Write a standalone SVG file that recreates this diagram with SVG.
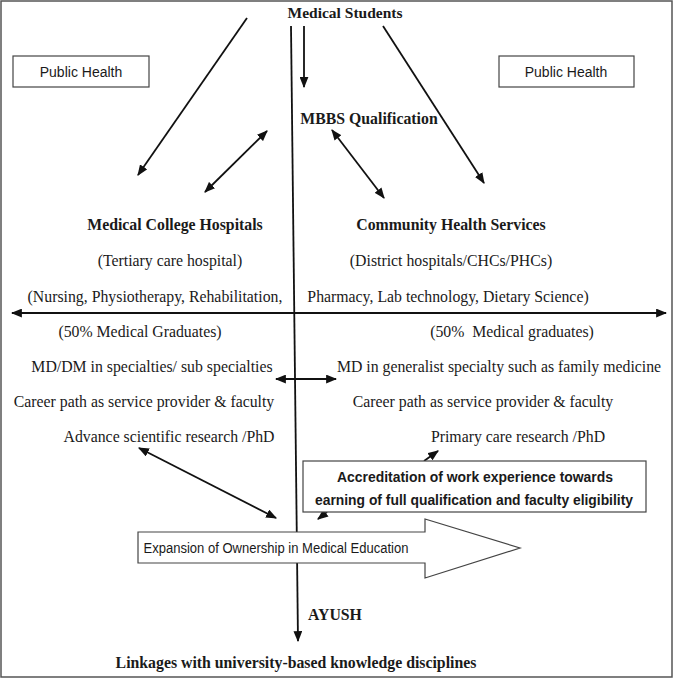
<svg xmlns="http://www.w3.org/2000/svg" width="673" height="678" viewBox="0 0 673 678">
<style>
.s{font-family:"Liberation Serif","Times New Roman",serif;font-size:15.8px;fill:#1a1a1a;text-anchor:middle}
.b{font-weight:bold}
.ss{font-family:"Liberation Sans",Arial,sans-serif;font-size:14px;fill:#1a1a1a;text-anchor:middle}
.box{fill:#fff;stroke:#444;stroke-width:1.2}
.c{stroke:#111;stroke-width:1.8;fill:none}
</style>
<defs>
<marker id="ah" viewBox="0 0 10 8" refX="9" refY="4" markerWidth="11" markerHeight="9" markerUnits="userSpaceOnUse" orient="auto-start-reverse">
<path d="M0,0 L10,4 L0,8 Z" fill="#111"/>
</marker>
</defs>
<rect x="1" y="1" width="671" height="676" fill="#fff" stroke="#555" stroke-width="1.5"/>
<g id="connectors">
<line class="c" x1="291" y1="26" x2="298" y2="641" marker-end="url(#ah)"/>
<line class="c" x1="304" y1="26" x2="304" y2="87" marker-end="url(#ah)"/>
<line class="c" x1="247" y1="18" x2="138" y2="175" marker-end="url(#ah)"/>
<line class="c" x1="383" y1="26" x2="484" y2="183" marker-end="url(#ah)"/>
<line class="c" x1="267" y1="131" x2="205" y2="192" marker-start="url(#ah)" marker-end="url(#ah)"/>
<line class="c" x1="332" y1="130" x2="384" y2="198" marker-start="url(#ah)" marker-end="url(#ah)"/>
<line class="c" x1="12" y1="313" x2="666" y2="313" marker-start="url(#ah)" marker-end="url(#ah)"/>
<line class="c" x1="276" y1="379" x2="336" y2="379" marker-start="url(#ah)" marker-end="url(#ah)"/>
<line class="c" x1="139" y1="448" x2="276" y2="518" marker-start="url(#ah)" marker-end="url(#ah)"/>
<line class="c" x1="424" y1="461" x2="438" y2="451" marker-end="url(#ah)"/>
<line class="c" x1="327" y1="512" x2="318" y2="519" marker-end="url(#ah)"/>
</g>
<g id="medical-students"><text class="s b" x="345" y="18" style="font-size:15.5px">Medical Students</text></g>
<g id="public-health-left"><rect class="box" x="13" y="56" width="136" height="31"/><text class="ss" x="81" y="77">Public Health</text></g>
<g id="public-health-right"><rect class="box" x="499" y="56" width="135" height="31"/><text class="ss" x="566" y="77">Public Health</text></g>
<g id="mbbs"><text class="s b" x="369" y="124">MBBS Qualification</text></g>
<g id="medical-college-hospitals">
<text class="s b" x="175" y="230">Medical College Hospitals</text>
<text class="s" x="170" y="266">(Tertiary care hospital)</text>
<text class="s" x="155" y="302">(Nursing, Physiotherapy, Rehabilitation,</text>
<text class="s" x="140" y="337">(50% Medical Graduates)</text>
<text class="s" x="152" y="372">MD/DM in specialties/ sub specialties</text>
<text class="s" x="144" y="407">Career path as service provider &amp; faculty</text>
<text class="s" x="169" y="442">Advance scientific research /PhD</text>
</g>
<g id="community-health-services">
<text class="s b" x="451" y="230">Community Health Services</text>
<text class="s" x="451" y="266">(District hospitals/CHCs/PHCs)</text>
<text class="s" x="448" y="302">Pharmacy, Lab technology, Dietary Science)</text>
<text class="s" x="512" y="337" style="white-space:pre">(50%  Medical graduates)</text>
<text class="s" x="499" y="372">MD in generalist specialty such as family medicine</text>
<text class="s" x="483" y="407">Career path as service provider &amp; faculty</text>
<text class="s" x="518" y="442">Primary care research /PhD</text>
</g>
<g id="accreditation">
<rect class="box" x="303" y="461" width="343" height="51"/>
<text class="ss b" x="475" y="482" textLength="276" lengthAdjust="spacingAndGlyphs">Accreditation of work experience towards</text>
<text class="ss b" x="474" y="505" textLength="318" lengthAdjust="spacingAndGlyphs">earning of full qualification and faculty eligibility</text>
</g>
<g id="expansion">
<polygon class="box" points="138,532 425,532 425,519 520,548 425,578 425,563 138,563"/>
<text class="ss" x="276" y="553" textLength="265" lengthAdjust="spacingAndGlyphs">Expansion of Ownership in Medical Education</text>
</g>
<g id="ayush"><text class="s b" x="335" y="620">AYUSH</text></g>
<g id="linkages"><text class="s b" x="296" y="668">Linkages with university-based knowledge disciplines</text></g>
</svg>
